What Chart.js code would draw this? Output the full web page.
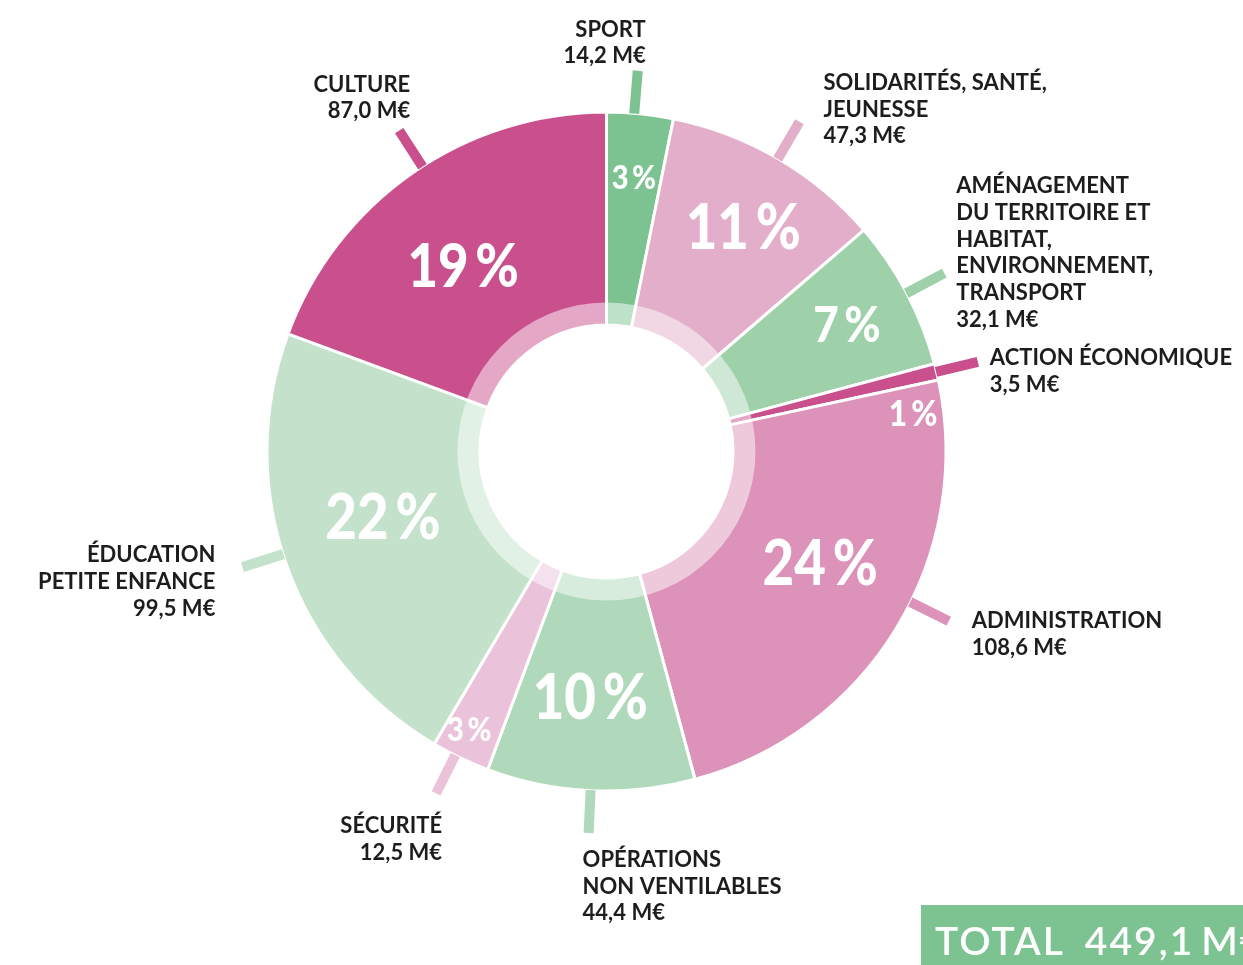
<!DOCTYPE html>
<html>
<head>
<meta charset="utf-8">
<script src="https://cdn.jsdelivr.net/npm/chart.js@4/dist/chart.umd.min.js"></script>
<style>
  html, body { margin: 0; padding: 0; background: #ffffff; }
  #wrap { position: relative; width: 1243px; height: 965px; overflow: hidden; }
</style>
</head>
<body>
<div id="wrap"><canvas id="c" width="1243" height="965"></canvas></div>
<script>
// ---------- DATA ----------
const categories = [
  ['SPORT'],
  ['SOLIDARITÉS, SANTÉ,', 'JEUNESSE'],
  ['AMÉNAGEMENT', 'DU TERRITOIRE ET', 'HABITAT,', 'ENVIRONNEMENT,', 'TRANSPORT'],
  ['ACTION ÉCONOMIQUE'],
  ['ADMINISTRATION'],
  ['OPÉRATIONS', 'NON VENTILABLES'],
  ['SÉCURITÉ'],
  ['ÉDUCATION', 'PETITE ENFANCE'],
  ['CULTURE']
];
const values = [14.2, 47.3, 32.1, 3.5, 108.6, 44.4, 12.5, 99.5, 87.0];
const unit = 'M€';
const totalLabel = 'TOTAL';

// ---------- STYLE / LAYOUT ----------
const colors = ['#7DC392', '#E2AEC9', '#9ED0AA', '#C9508C', '#DC92B9', '#AFD9BA', '#EAC3DA', '#C4E2CB', '#C9508C'];
const tickNudge = [-1, 0, 0, 0, -5, 0, 1, 2, 2];            // degrees
const labelOffset = [[8, -34], [24, -32], [12, -80], [12, 3], [23, 7], [-6, 34], [6, 40], [-27, -5], [11, -39]];
const labelAlign = ['right', 'left', 'left', 'left', 'left', 'left', 'right', 'right', 'right'];
const pctRadius = [276, 263, 272, 309, 241, 246, 310, 233, 235];
const pctNudge = [0, 1, 0, 6.4, -3.8, 1.1, 0.8, 3.3, -2.7];  // degrees
const pctSize = [33, 62, 50, 36, 62, 62, 33, 62, 60];
const ringWidth = 21;
const tickLen = 44;
const textColor = '#1D1D1B';
const fontFamily = 'Lato, "Open Sans", sans-serif';

const total = values.reduce((a, b) => a + b, 0);
const fmt = v => v.toFixed(1).replace('.', ',');

const decoPlugin = {
  id: 'deco',
  afterDatasetsDraw(chart) {
    const ctx = chart.ctx;
    const meta = chart.getDatasetMeta(0);
    const arcs = meta.data;
    const cx = arcs[0].x, cy = arcs[0].y;
    const Rout = arcs[0].outerRadius - 1.5;
    const Rin = arcs[0].innerRadius + 1.5;
    ctx.save();
    // light inner ring
    ctx.beginPath();
    ctx.arc(cx, cy, Rin + ringWidth, 0, Math.PI * 2);
    ctx.arc(cx, cy, Rin - 2, 0, Math.PI * 2, true);
    ctx.fillStyle = 'rgba(255,255,255,0.5)';
    ctx.fill('evenodd');

    const deg = Math.PI / 180;
    arcs.forEach((arc, i) => {
      const mid = (arc.startAngle + arc.endAngle) / 2;
      // leader tick
      const a = mid + tickNudge[i] * deg;
      const r0 = Rout + 1, r1 = Rout + tickLen;
      ctx.beginPath();
      ctx.moveTo(cx + r0 * Math.cos(a), cy + r0 * Math.sin(a));
      ctx.lineTo(cx + r1 * Math.cos(a), cy + r1 * Math.sin(a));
      ctx.lineWidth = 10;
      ctx.lineCap = 'butt';
      ctx.strokeStyle = colors[i];
      ctx.stroke();
      // label text
      const ex = cx + r1 * Math.cos(a), ey = cy + r1 * Math.sin(a);
      const lx = ex + labelOffset[i][0];
      let ly = ey + labelOffset[i][1];
      ctx.font = '700 22px ' + fontFamily;
      ctx.fillStyle = textColor;
      ctx.textAlign = labelAlign[i];
      ctx.textBaseline = 'alphabetic';
      const lines = categories[i].concat([fmt(values[i]) + ' ' + unit]);
      lines.forEach((ln, k) => ctx.fillText(ln, lx, ly + k * 26.7));
      // percentage
      const pa = mid + pctNudge[i] * deg;
      const pr = pctRadius[i];
      const px = cx + pr * Math.cos(pa), py = cy + pr * Math.sin(pa);
      const pct = Math.round(values[i] / total * 100);
      ctx.save();
      ctx.translate(px, py + pctSize[i] * 0.36);
      ctx.scale(0.88, 1);
      ctx.font = '900 ' + pctSize[i] + 'px ' + fontFamily;
      ctx.fillStyle = '#FFFFFF';
      ctx.textAlign = 'center';
      ctx.fillText(pct + '\u2009%', 0, 0);
      ctx.restore();
    });

    // total box
    ctx.fillStyle = '#7DC392';
    ctx.fillRect(921, 905, 330, 60);
    ctx.fillStyle = '#FFFFFF';
    ctx.textAlign = 'left';
    ctx.font = '600 39px ' + fontFamily;
    ctx.letterSpacing = '2px';
    ctx.fillText(totalLabel, 935, 955);
    const w = ctx.measureText(totalLabel).width;
    ctx.fillText(fmt(total) + '\u2009' + unit, 935 + w + 20, 955);
    ctx.letterSpacing = '0px';
    ctx.restore();
  }
};

new Chart(document.getElementById('c'), {
  type: 'doughnut',
  data: {
    labels: categories.map(c => c.join(' ')),
    datasets: [{
      data: values,
      backgroundColor: colors,
      borderColor: '#FFFFFF',
      borderWidth: 3,
      hoverOffset: 0
    }]
  },
  options: {
    responsive: false,
    animation: false,
    events: [],
    radius: 339.5,
    cutout: '37.26%',
    layout: { padding: { left: 200, right: 230, top: 50, bottom: 112 } },
    plugins: { legend: { display: false }, tooltip: { enabled: false } }
  },
  plugins: [decoPlugin]
});
</script>
</body>
</html>
